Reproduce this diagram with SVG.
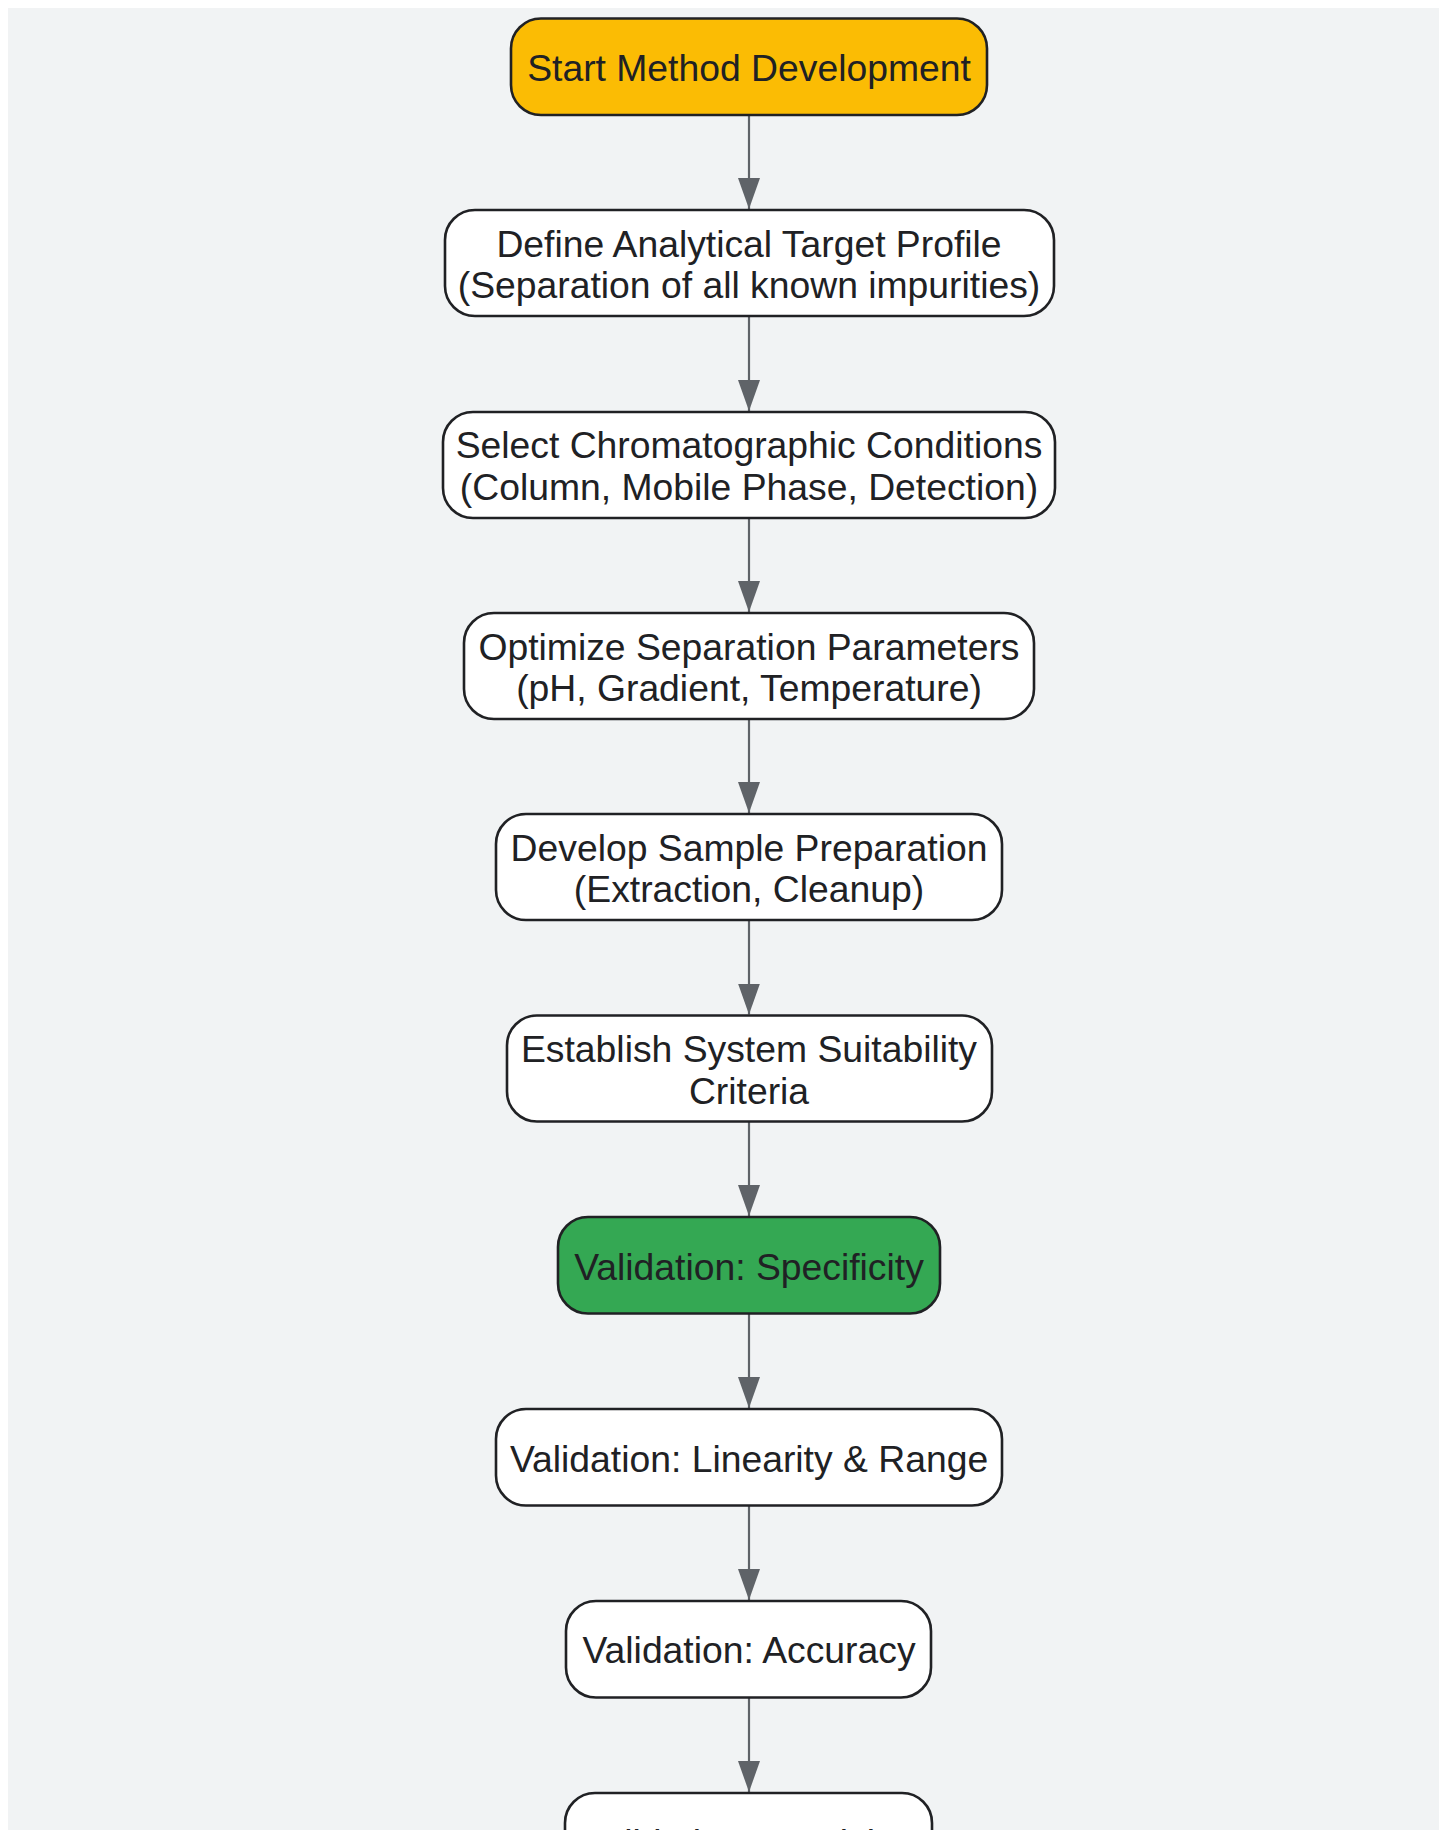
<svg xmlns="http://www.w3.org/2000/svg" width="1448" height="1830" viewBox="0 0 1448 1830">
  <style>
    .node rect { stroke: #202124; stroke-width: 2.6; }
    .plain rect { fill: #ffffff; }
    .start rect { fill: #FBBC04; }
    .green rect { fill: #34A853; }
    .node text { font-family: "Liberation Sans", Arial, sans-serif; font-size: 37.3px; fill: #202124; text-anchor: middle; }
    .edge { stroke: #5F6368; stroke-width: 2.2; fill: none; }
  </style>
  <defs>
    <marker id="arr" viewBox="0 0 31 22" refX="31" refY="11" markerWidth="31" markerHeight="22" markerUnits="userSpaceOnUse" orient="auto">
      <path d="M0,0 L31,11 L0,22 Z" fill="#5F6368"/>
    </marker>
  </defs>
  <rect x="0" y="0" width="1448" height="1830" fill="#ffffff"/>
  <rect x="8" y="8" width="1431" height="1830" fill="#F1F3F4"/>

  <g id="connectors">
    <line class="edge" x1="749" y1="115" x2="749" y2="209" marker-end="url(#arr)"/>
    <line class="edge" x1="749" y1="316" x2="749" y2="411" marker-end="url(#arr)"/>
    <line class="edge" x1="749" y1="518" x2="749" y2="612" marker-end="url(#arr)"/>
    <line class="edge" x1="749" y1="719" x2="749" y2="813" marker-end="url(#arr)"/>
    <line class="edge" x1="749" y1="920" x2="749" y2="1014.5" marker-end="url(#arr)"/>
    <line class="edge" x1="749" y1="1121.5" x2="749" y2="1216" marker-end="url(#arr)"/>
    <line class="edge" x1="749" y1="1313.5" x2="749" y2="1408" marker-end="url(#arr)"/>
    <line class="edge" x1="749" y1="1505.5" x2="749" y2="1600" marker-end="url(#arr)"/>
    <line class="edge" x1="749" y1="1697.5" x2="749" y2="1792" marker-end="url(#arr)"/>
  </g>

  <g id="start" class="node start">
    <rect x="511" y="18.5" width="476" height="96.5" rx="30" ry="30"/>
    <text x="749" y="81">Start Method Development</text>
  </g>
  <g id="define" class="node plain">
    <rect x="445" y="210" width="609" height="106" rx="30" ry="30"/>
    <text x="749" y="256.7">Define Analytical Target Profile</text>
    <text x="749" y="297.7">(Separation of all known impurities)</text>
  </g>
  <g id="select" class="node plain">
    <rect x="443" y="412" width="612" height="106" rx="30" ry="30"/>
    <text x="749" y="458">Select Chromatographic Conditions</text>
    <text x="749" y="499.5">(Column, Mobile Phase, Detection)</text>
  </g>
  <g id="optimize" class="node plain">
    <rect x="464" y="613" width="570" height="106" rx="30" ry="30"/>
    <text x="749" y="659.5">Optimize Separation Parameters</text>
    <text x="749" y="700.5">(pH, Gradient, Temperature)</text>
  </g>
  <g id="develop" class="node plain">
    <rect x="496" y="814" width="506" height="106" rx="30" ry="30"/>
    <text x="749" y="860.5">Develop Sample Preparation</text>
    <text x="749" y="901.5">(Extraction, Cleanup)</text>
  </g>
  <g id="establish" class="node plain">
    <rect x="507" y="1015.5" width="485" height="106" rx="30" ry="30"/>
    <text x="749" y="1062">Establish System Suitability</text>
    <text x="749" y="1103.5">Criteria</text>
  </g>
  <g id="specificity" class="node green">
    <rect x="558" y="1217" width="382" height="96.5" rx="30" ry="30"/>
    <text x="749" y="1279.5">Validation: Specificity</text>
  </g>
  <g id="linearity" class="node plain">
    <rect x="496" y="1409" width="506" height="96.5" rx="30" ry="30"/>
    <text x="749" y="1471.5">Validation: Linearity &amp; Range</text>
  </g>
  <g id="accuracy" class="node plain">
    <rect x="566" y="1601" width="365" height="96.5" rx="30" ry="30"/>
    <text x="749" y="1663.3">Validation: Accuracy</text>
  </g>
  <g id="precision" class="node plain">
    <rect x="565" y="1793" width="367" height="96.5" rx="30" ry="30"/>
    <text x="749" y="1855.5">Validation: Precision</text>
  </g>
</svg>
